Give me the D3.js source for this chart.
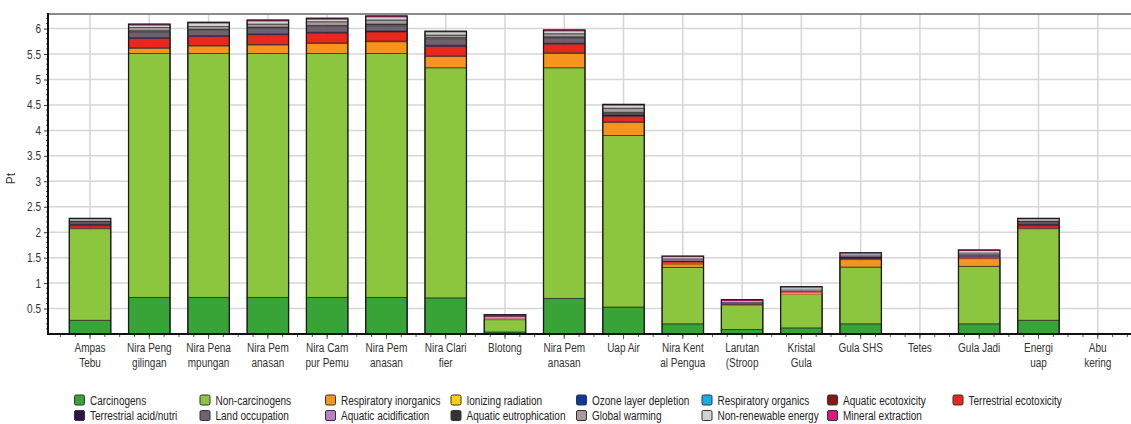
<!DOCTYPE html>
<html>
<head>
<meta charset="utf-8">
<script src="https://cdn.jsdelivr.net/npm/d3@7"></script>
<style>
  html, body { margin: 0; padding: 0; background: #fff; }
  svg { display: block; }
  text { font-family: "Liberation Sans", Arial, sans-serif; }
</style>
</head>
<body>
<svg id="chart" width="1131" height="424"></svg>
<script>
// Process stages (two-line labels)
const categories = [
  ["Ampas", "Tebu"], ["Nira Peng", "gilingan"], ["Nira Pena", "mpungan"], ["Nira Pem", "anasan"],
  ["Nira Cam", "pur Pemu"], ["Nira Pem", "anasan"], ["Nira Clari", "fier"], ["Blotong", ""],
  ["Nira Pem", "anasan"], ["Uap Air", ""], ["Nira Kent", "al Pengua"], ["Larutan", "(Stroop"],
  ["Kristal", "Gula"], ["Gula SHS", ""], ["Tetes", ""], ["Gula Jadi", ""], ["Energi", "uap"], ["Abu", "kering"]
];

// Impact category scores (Pt), one value per stage
const carcinogens       = [0.27, 0.72, 0.72, 0.72, 0.72, 0.72, 0.71, 0.04, 0.70, 0.53, 0.20, 0.09, 0.12, 0.20, 0, 0.20, 0.27, 0];
const nonCarcinogens    = [1.78, 4.79, 4.79, 4.79, 4.79, 4.79, 4.52, 0.24, 4.53, 3.37, 1.11, 0.475, 0.655, 1.115, 0, 1.13, 1.78, 0];
const respInorganics    = [0.015, 0.10, 0.145, 0.165, 0.195, 0.23, 0.22, 0.005, 0.28, 0.255, 0.065, 0.01, 0.03, 0.145, 0, 0.15, 0.015, 0];
const ionizingRadiation = [0.001, 0.002, 0.002, 0.002, 0.002, 0.002, 0.002, 0.001, 0.002, 0.002, 0.001, 0.001, 0.001, 0.001, 0, 0.001, 0.001, 0];
const ozoneDepletion    = [0.001, 0.001, 0.001, 0.001, 0.001, 0.001, 0.001, 0.001, 0.001, 0.001, 0.001, 0.001, 0.001, 0.001, 0, 0.001, 0.001, 0];
const respOrganics      = [0.001, 0.001, 0.001, 0.001, 0.001, 0.001, 0.001, 0.001, 0.001, 0.001, 0.001, 0.001, 0.001, 0.001, 0, 0.001, 0.001, 0];
const aquaticEcotox     = [0.01, 0.01, 0.01, 0.01, 0.01, 0.01, 0.01, 0.002, 0.01, 0.008, 0.005, 0.003, 0.003, 0.005, 0, 0.005, 0.01, 0];
const terrestrialEcotox = [0.05, 0.18, 0.175, 0.19, 0.19, 0.18, 0.185, 0.015, 0.17, 0.11, 0.03, 0.035, 0.02, 0.01, 0, 0.03, 0.05, 0];
const terrestrialAcid   = [0.03, 0.02, 0.02, 0.02, 0.02, 0.02, 0.025, 0.003, 0.02, 0.03, 0.03, 0.005, 0.02, 0.04, 0, 0.03, 0.03, 0];
const landOccupation    = [0.04, 0.11, 0.10, 0.105, 0.11, 0.10, 0.125, 0.003, 0.10, 0.035, 0.03, 0.005, 0.02, 0.03, 0, 0.03, 0.04, 0];
const aquaticAcid       = [0.003, 0.005, 0.005, 0.005, 0.005, 0.005, 0.005, 0.01, 0.005, 0.004, 0.003, 0.005, 0.003, 0.003, 0, 0.003, 0.003, 0];
const aquaticEutroph    = [0.02, 0.02, 0.02, 0.02, 0.02, 0.03, 0.02, 0.002, 0.02, 0.01, 0.01, 0.003, 0.005, 0.01, 0, 0.01, 0.02, 0];
const globalWarming     = [0.02, 0.06, 0.05, 0.06, 0.07, 0.08, 0.05, 0.005, 0.06, 0.08, 0.02, 0.005, 0.02, 0.01, 0, 0.02, 0.02, 0];
const nonRenewable      = [0.01, 0.05, 0.07, 0.06, 0.05, 0.06, 0.06, 0.01, 0.055, 0.06, 0.01, 0.005, 0.015, 0.01, 0, 0.02, 0.01, 0];
const mineralExtraction = [0.02, 0.02, 0.015, 0.02, 0.02, 0.02, 0.015, 0.04, 0.02, 0.015, 0.015, 0.03, 0.015, 0.015, 0, 0.02, 0.02, 0];

const seriesNames = [
  "Carcinogens", "Non-carcinogens", "Respiratory inorganics", "Ionizing radiation",
  "Ozone layer depletion", "Respiratory organics", "Aquatic ecotoxicity", "Terrestrial ecotoxicity",
  "Terrestrial acid/nutri", "Land occupation", "Aquatic acidification", "Aquatic eutrophication",
  "Global warming", "Non-renewable energy", "Mineral extraction"
];
const seriesValues = [
  carcinogens, nonCarcinogens, respInorganics, ionizingRadiation,
  ozoneDepletion, respOrganics, aquaticEcotox, terrestrialEcotox,
  terrestrialAcid, landOccupation, aquaticAcid, aquaticEutroph,
  globalWarming, nonRenewable, mineralExtraction
];
const seriesColors = [
  "#38a336", "#8cc63f", "#f7941e", "#ffd200",
  "#0b3b9e", "#19aee8", "#8a1616", "#e8271d",
  "#2c1747", "#6d6370", "#b97fc2", "#333333",
  "#a89c9b", "#d2d2d2", "#e0147f"
];

const yTickValues = [0.5, 1, 1.5, 2, 2.5, 3, 3.5, 4, 4.5, 5, 5.5, 6];

// Layout
const frameLeft = 48, frameTop = 15, frameBottom = 334, frameRight = 1131;
const narrow = 0.8; // horizontal squeeze applied to all text

const svg = d3.select("#chart");

// Squeeze a text/tspan selection to a condensed width
function condense(sel) {
  sel.each(function () {
    const len = this.getComputedTextLength();
    if (len > 0) {
      d3.select(this).attr("textLength", len * narrow).attr("lengthAdjust", "spacingAndGlyphs");
    }
  });
}

const rows = categories.map((c, i) => {
  const r = { idx: i };
  seriesNames.forEach((s, k) => { r[s] = seriesValues[k][i]; });
  return r;
});

const x = d3.scaleBand()
  .domain(categories.map((c, i) => i))
  .range([60.4, 1127.4])
  .paddingInner(0.3)
  .paddingOuter(0.15);

const y = d3.scaleLinear().domain([0, 6.267]).range([frameBottom, frameTop]);

// Grid
const grid = svg.append("g").attr("stroke", "#d6d6d6").attr("stroke-width", 1.5);
grid.selectAll("line.h").data(yTickValues).join("line")
  .attr("x1", frameLeft).attr("x2", frameRight)
  .attr("y1", d => y(d)).attr("y2", d => y(d));
grid.selectAll("line.v").data(categories.map((c, i) => i)).join("line")
  .attr("x1", d => x(d) + x.bandwidth() / 2).attr("x2", d => x(d) + x.bandwidth() / 2)
  .attr("y1", frameTop).attr("y2", frameBottom);

// Top frame line
svg.append("line")
  .attr("x1", frameLeft).attr("x2", frameRight)
  .attr("y1", frameTop - 1).attr("y2", frameTop - 1)
  .attr("stroke", "#8a8a8a").attr("stroke-width", 2);

// Stacked bars
const stack = d3.stack().keys(seriesNames);
const layers = stack(rows);

const barG = svg.append("g");
layers.forEach((layer, k) => {
  barG.append("g")
    .attr("fill", seriesColors[k])
    .selectAll("rect")
    .data(layer.filter(d => d[1] - d[0] > 0))
    .join("rect")
    .attr("x", d => x(d.data.idx))
    .attr("width", x.bandwidth())
    .attr("y", d => y(d[1]))
    .attr("height", d => Math.max(0, y(d[0]) - y(d[1])))
    .attr("stroke", d => (y(d[0]) - y(d[1]) > 1.6 ? "#1e1e1e" : "none"))
    .attr("stroke-width", 0.8)
    .attr("stroke-opacity", 0.8);
});

// Bar outlines
const totalOf = r => d3.sum(seriesNames, s => r[s]);
barG.append("g").selectAll("rect")
  .data(rows.filter(r => totalOf(r) > 0))
  .join("rect")
  .attr("x", d => x(d.idx))
  .attr("width", x.bandwidth())
  .attr("y", d => y(totalOf(d)))
  .attr("height", d => y(0) - y(totalOf(d)))
  .attr("fill", "none")
  .attr("stroke", "#1a1a1a")
  .attr("stroke-width", 1.3);

// Y axis
const yAxis = d3.axisLeft(y).tickValues(yTickValues).tickSize(4).tickFormat(d3.format("~g"));
const yG = svg.append("g").attr("transform", `translate(${frameLeft},0)`).call(yAxis);
yG.select(".domain").remove();
yG.selectAll("text").attr("font-size", 12.5).attr("fill", "#333").attr("font-family", null).call(condense);
yG.selectAll("line").attr("stroke", "#333");
const yMinor = d3.range(0.1, 6.26, 0.1).filter(v => Math.abs(v * 2 - Math.round(v * 2)) > 1e-6);
svg.append("g").selectAll("line").data(yMinor).join("line")
  .attr("x1", frameLeft - 2).attr("x2", frameLeft)
  .attr("y1", d => y(d)).attr("y2", d => y(d))
  .attr("stroke", "#444").attr("stroke-width", 1);

svg.append("text")
  .attr("transform", `translate(15,${(frameTop + frameBottom) / 2 + 4}) rotate(-90)`)
  .attr("text-anchor", "middle")
  .attr("font-size", 12)
  .attr("fill", "#333")
  .text("Pt");

// X axis ticks: major at band centres, minor at quarter steps
const step = x.step();
const xStart = x(0) + x.bandwidth() / 2 - step / 2;
const xMinor = d3.range(0, categories.length * 4 + 1).map(i => xStart + i * step / 4)
  .filter(v => v > frameLeft + 2 && v < frameRight);
svg.append("g").selectAll("line").data(xMinor).join("line")
  .attr("x1", d => d).attr("x2", d => d)
  .attr("y1", frameBottom).attr("y2", frameBottom + 3)
  .attr("stroke", "#555").attr("stroke-width", 1);

const xAxis = d3.axisBottom(x).tickSize(5).tickFormat("");
const xG = svg.append("g").attr("transform", `translate(0,${frameBottom})`).call(xAxis);
xG.select(".domain").remove();
xG.selectAll("line").attr("stroke", "#555");

// Axis lines
svg.append("line")
  .attr("x1", frameLeft).attr("x2", frameRight)
  .attr("y1", frameBottom).attr("y2", frameBottom)
  .attr("stroke", "#111").attr("stroke-width", 2);
svg.append("line")
  .attr("x1", frameLeft).attr("x2", frameLeft)
  .attr("y1", frameTop - 2).attr("y2", frameBottom + 1)
  .attr("stroke", "#111").attr("stroke-width", 2);

// Category labels
const labelG = svg.append("g").attr("font-size", 12.5).attr("fill", "#333").attr("text-anchor", "middle");
categories.forEach((c, i) => {
  const cx = x(i) + x.bandwidth() / 2;
  const t = labelG.append("text").attr("x", cx).attr("y", 352);
  t.append("tspan").attr("x", cx).attr("dy", 0).text(c[0]);
  if (c[1]) t.append("tspan").attr("x", cx).attr("dy", 15).text(c[1]);
});
labelG.selectAll("tspan").call(condense);

// Legend
const legend = svg.append("g").attr("font-size", 12.5).attr("fill", "#222");
seriesNames.forEach((name, k) => {
  const col = k % 8, row = Math.floor(k / 8);
  const lx = 74 + col * 125.5, ly = 400 + row * 15.5;
  const g = legend.append("g").attr("transform", `translate(${lx},${ly})`);
  g.append("rect").attr("x", 0.5).attr("y", -5).attr("width", 10).attr("height", 10)
    .attr("rx", 1.5)
    .attr("fill", seriesColors[k]).attr("stroke", "#333").attr("stroke-width", 1);
  g.append("text").attr("x", 16).attr("y", 4.5).text(name);
});
legend.selectAll("text").call(condense);
</script>
</body>
</html>
